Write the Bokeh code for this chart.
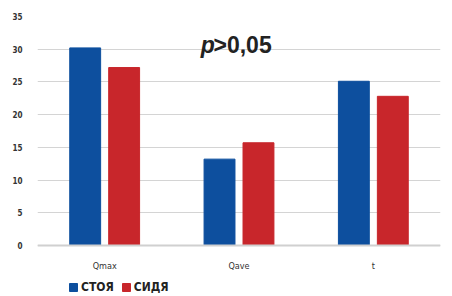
from bokeh.plotting import figure
from bokeh.models import FactorRange, Range1d, Legend, LegendItem, Label, Span
from bokeh.core.properties import value
from bokeh.transform import dodge
from bokeh.models import ColumnDataSource
from bokeh.embed import file_html
from bokeh.resources import INLINE

categories = ["Qmax", "Qave", "t"]
standing = [30.2, 13.2, 25.1]
sitting = [27.2, 15.7, 22.8]
series_names = ["СТОЯ", "СИДЯ"]
y_ticks = [0, 5, 10, 15, 20, 25, 30, 35]

BLUE = "#0d4f9e"
RED = "#c8262b"
FONT = "DejaVu Sans Condensed"

# layout: value axis 0..35 occupies 229 px; the frame extends 49 px below zero
# to hold category labels and the legend
Y_MAX = 35
PX_PER_UNIT = 229 / Y_MAX
Y_MIN = -49 / PX_PER_UNIT

src = ColumnDataSource(dict(cat=categories, a=standing, b=sitting))

p = figure(x_range=FactorRange(*categories, range_padding=0), y_range=Range1d(Y_MIN, Y_MAX),
           width=452, height=296, output_backend="svg", toolbar_location=None,
           min_border_left=37, min_border_right=12, min_border_top=16, min_border_bottom=2)
p.outline_line_color = None

r1 = p.vbar(x=dodge("cat", -0.145, range=p.x_range), top="a", width=0.23, source=src,
            fill_color=BLUE, line_color=BLUE)
r2 = p.vbar(x=dodge("cat", 0.145, range=p.x_range), top="b", width=0.23, source=src,
            fill_color=RED, line_color=RED)

p.yaxis.ticker = y_ticks
p.yaxis.axis_line_color = None
p.yaxis.major_tick_line_color = None
p.yaxis.minor_tick_line_color = None
p.yaxis.major_label_text_font = FONT
p.yaxis.major_label_text_font_style = "bold"
p.yaxis.major_label_text_font_size = "8px"
p.yaxis.major_label_text_color = "#333333"
p.yaxis.major_label_standoff = 9

p.xaxis.visible = False
p.xgrid.grid_line_color = None
p.ygrid.ticker = y_ticks
p.ygrid.grid_line_color = "#d4d4d4"
p.ygrid.grid_line_width = 1

p.add_layout(Span(location=0, dimension="width", line_color="#d0d0d0", line_width=2))

# category labels under the baseline
lbl = ColumnDataSource(dict(cat=categories, y=[-3.2] * len(categories)))
p.text(x="cat", y="y", text="cat", source=lbl, text_font=value(FONT),
       text_font_size="9px", text_color="#333333", text_align="center",
       text_baseline="alphabetic")

legend = Legend(items=[LegendItem(label=series_names[0], renderers=[r1]),
                       LegendItem(label=series_names[1], renderers=[r2])],
                location=(31, 0), orientation="horizontal",
                background_fill_alpha=0, border_line_color=None,
                glyph_width=10, glyph_height=10, padding=0, margin=0, spacing=7,
                label_standoff=3, label_height=10,
                label_text_font=FONT, label_text_font_style="bold",
                label_text_font_size="12px", label_text_color="#222222")
p.add_layout(legend, "center")

p.add_layout(Label(x=1.215, y=30.6, text="p", text_font="Liberation Sans",
                   text_font_style="bold italic", text_font_size="23px",
                   text_color="#222222", text_baseline="alphabetic"))
p.add_layout(Label(x=1.31, y=30.6, text=">0,05", text_font="Liberation Sans",
                   text_font_style="bold", text_font_size="23px",
                   text_color="#222222", text_baseline="alphabetic"))

open("out.html", "w").write(file_html(p, INLINE))
